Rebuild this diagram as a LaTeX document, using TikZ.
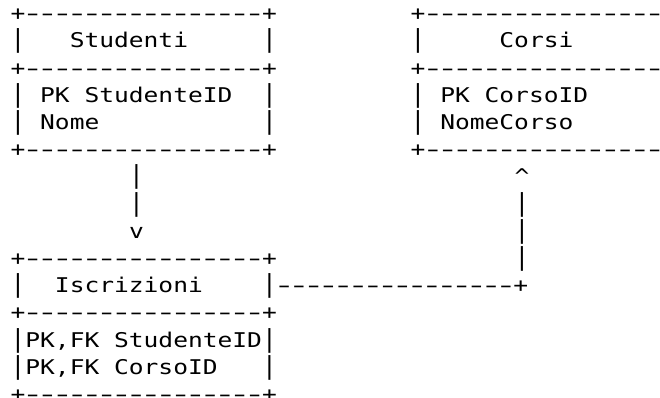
\documentclass[tikz,border=0pt]{standalone}
\usepackage{fontspec}
\setmonofont{DejaVu Sans Mono}[FakeStretch=1.21]
\usepackage{graphicx}
\usepackage{tikz}
\tikzstyle{ascii} = [anchor=base west,inner sep=0pt,outer sep=0pt,text=black,font=\ttfamily\fontsize{20.3}{20.3}\selectfont]
\newcommand{\hb}{\hbox to \fontcharwd\font`\-{\hss\scalebox{1.5}[1]{-}\hss}}
\newcommand{\vb}{\hbox to \fontcharwd\font`\|{\hss\scalebox{1}[1.22]{|}\hss}}
\newcommand{\dashrun}{\hb\hb\hb\hb\hb\hb\hb\hb\hb\hb\hb\hb\hb\hb\hb\hb}
\newcommand{\tabledge}{+\dashrun+}

\begin{document}
\begin{tikzpicture}[x=1pt,y=-1pt]
        \useasboundingbox (0,0) rectangle (660,398);
        \clip (0,0) rectangle (660,398);

        \node[ascii] (stu0) at (10.6,20.7) {\tabledge};
        \node[ascii] (stu1) at (10.6,47.9) {\vb~~~Studenti~~~~~\vb};
        \node[ascii] (stu2) at (10.6,75.1) {\tabledge};
        \node[ascii] (stu3) at (10.6,102.3) {\vb~PK~StudenteID~~\vb};
        \node[ascii] (stu4) at (10.6,129.5) {\vb~Nome~~~~~~~~~~~\vb};
        \node[ascii] (stu5) at (10.6,156.7) {\tabledge};

        \node[ascii] (cor0) at (410.7,20.7) {\tabledge};
        \node[ascii] (cor1) at (410.7,47.9) {\vb~~~~~Corsi~~~~~~\vb};
        \node[ascii] (cor2) at (410.7,75.1) {\tabledge};
        \node[ascii] (cor3) at (410.7,102.3) {\vb~PK~CorsoID~~~~~\vb};
        \node[ascii] (cor4) at (410.7,129.5) {\vb~NomeCorso~~~~~~\vb};
        \node[ascii] (cor5) at (410.7,156.7) {\tabledge};

        \node[ascii] (down0) at (129.2,183.9) {\vb};
        \node[ascii] (down1) at (129.2,211.1) {\vb};
        \node[ascii] (down2) at (129.2,238.3) {v};

        \node[ascii] (up0) at (514.5,183.9) {\textasciicircum};
        \node[ascii] (up1) at (514.5,211.1) {\vb};
        \node[ascii] (up2) at (514.5,238.3) {\vb};
        \node[ascii] (up3) at (514.5,265.5) {\vb};

        \node[ascii] (isc0) at (10.6,265.5) {\tabledge};
        \node[ascii] (isc1) at (10.6,292.7) {\vb~~Iscrizioni~~~~\vb\dashrun+};
        \node[ascii] (isc2) at (10.6,319.9) {\tabledge};
        \node[ascii] (isc3) at (10.6,347.1) {\vb PK,FK~StudenteID\vb};
        \node[ascii] (isc4) at (10.6,374.3) {\vb PK,FK~CorsoID~~~\vb};
        \node[ascii] (isc5) at (10.6,401.5) {\tabledge};

    \end{tikzpicture}
\end{document}
